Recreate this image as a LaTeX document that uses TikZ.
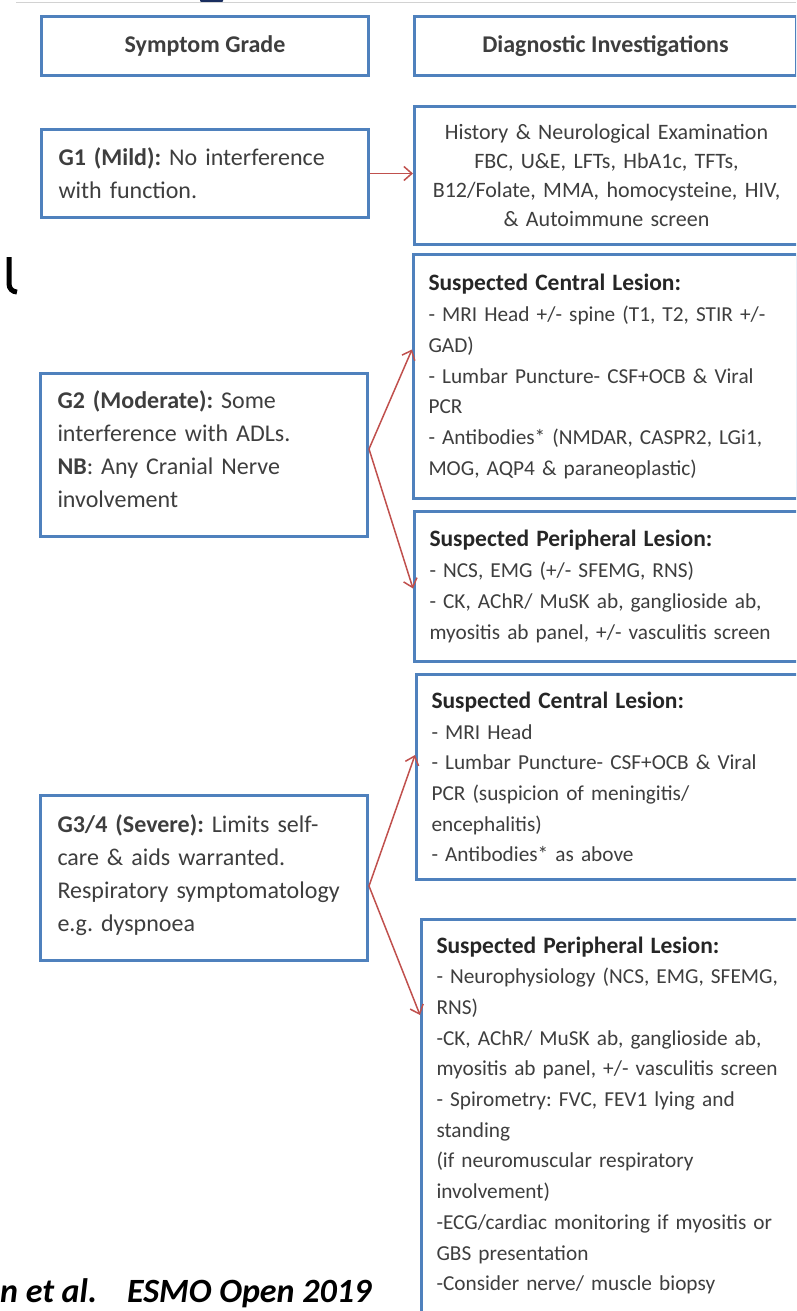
\documentclass[tikz,border=0pt]{standalone}
\usepackage{fontspec}
\setmainfont{Carlito}
\usetikzlibrary{arrows.meta,positioning}
\frenchspacing

\definecolor{boxblue}{RGB}{79,129,189}
\definecolor{arrowred}{RGB}{192,80,77}
\definecolor{textgray}{RGB}{62,62,62}
\definecolor{slidenavy}{RGB}{25,45,95}

\newcommand{\lesionhd}[1]{{\fontsize{23.5}{30.7}\selectfont\bfseries\color{black!85}#1}}

\tikzset{
  basebox/.style={draw=boxblue,line width=3pt,fill=white,anchor=north west,text=textgray},
  headbox/.style={basebox,minimum height=59pt,align=center,font=\fontsize{24}{28}\selectfont\bfseries},
  gradebox/.style={basebox,minimum width=327pt,text width=293pt,inner xsep=17pt,align=left,font=\fontsize{24}{33}\selectfont},
  testbox/.style={basebox,minimum width=382pt,text width=354pt,inner xsep=15pt,align=left,font=\fontsize{21.3}{30.7}\selectfont},
  conn/.style={draw=arrowred,line width=1.5pt,-{Straight Barb[length=8pt,width=14pt]}}
}

\begin{document}
\begin{tikzpicture}[x=1pt,y=-1pt]
\useasboundingbox (0,0) rectangle (796,1311);
\clip (0,0) rectangle (796,1311);
% slide remnants
\draw[gray!35,line width=1.5pt] (16,2.5) -- (796,2.5);
\fill[slidenavy,rounded corners=1pt] (200,-2) rectangle (223,2);
\draw[black,line width=5pt] (9,257) -- (9,284) to[out=-90,in=180] (17,292);

% column headers
\node[headbox,minimum width=327pt] (hdrgrade) at (40,15) {Symptom Grade};
\node[headbox,minimum width=382pt] (hdrtest) at (413,15) {Diagnostic Investigations};

% grades
\node[gradebox,minimum height=88pt] (gone) at (40,128) {\textbf{G1 (Mild):} No interference\\with function.};
\node[gradebox,minimum height=163pt] (gtwo) at (39,372) {\textbf{G2 (Moderate):} Some\\interference with ADLs.\\\textbf{NB}: Any Cranial Nerve\\involvement\par\vspace*{12pt}};
\node[gradebox,minimum height=165pt] (gthree) at (39,794) {\textbf{G3/4 (Severe):} Limits self-\\care \& aids warranted.\\Respiratory symptomatology\\e.g. dyspnoea\par\vspace*{6pt}};

% investigations
\node[testbox,align=center,minimum height=138pt,font=\fontsize{22}{29}\selectfont] (hist) at (413,105) {History \& Neurological Examination\\FBC, U\&E, LFTs, HbA1c, TFTs,\\B12/Folate, MMA, homocysteine, HIV,\\\& Autoimmune screen};
\node[testbox,minimum width=383pt,minimum height=244pt] (cen2) at (412,253) {\lesionhd{Suspected Central Lesion:}\\- MRI Head +/- spine (T1, T2, STIR +/-\\GAD)\\- Lumbar Puncture- CSF+OCB \& Viral\\PCR\\- Antibodies* (NMDAR, CASPR2, LGi1,\\MOG, AQP4 \& paraneoplastic)};
\node[testbox,minimum height=150pt] (per2) at (413,510) {\lesionhd{Suspected Peripheral Lesion:}\\- NCS, EMG (+/- SFEMG, RNS)\\- CK, AChR/ MuSK ab, ganglioside ab,\\myositis ab panel, +/- vasculitis screen};
\node[testbox,minimum width=380pt,minimum height=205pt] (cen3) at (415,673) {\lesionhd{Suspected Central Lesion:}\\- MRI Head\\- Lumbar Puncture- CSF+OCB \& Viral\\PCR (suspicion of meningitis/\\encephalitis)\\- Antibodies* as above};
\node[testbox,inner ysep=17pt] (per3) at (420,918) {\lesionhd{Suspected Peripheral Lesion:}\\- Neurophysiology (NCS, EMG, SFEMG,\\RNS)\\-CK, AChR/ MuSK ab, ganglioside ab,\\myositis ab panel, +/- vasculitis screen\\- Spirometry: FVC, FEV1 lying and\\standing\\(if neuromuscular respiratory\\involvement)\\-ECG/cardiac monitoring if myositis or\\GBS presentation\\-Consider nerve/ muscle biopsy\par\vspace*{30pt}};

% connectors
\coordinate (gtwoout) at ([yshift=6pt]gtwo.east);
\coordinate (gthreeout) at ([yshift=-8pt]gthree.east);
\draw[conn] (gone.east) -- (gone.east -| hist.west);
\draw[conn] (gtwoout) -- ([yshift=27pt]cen2.west);
\draw[conn] (gtwoout) -- ([yshift=-2pt]per2.west);
\draw[conn] (gthreeout) -- ([yshift=22pt]cen3.west);
\draw[conn] (gthreeout) -- ([yshift=-97pt]per3.north west);

% source
\node[anchor=base west,inner sep=0pt,font=\fontsize{34}{34}\selectfont\bfseries\itshape] (source) at (0,1302) {n et al.\hspace{30pt}ESMO Open 2019};
\end{tikzpicture}
\end{document}
